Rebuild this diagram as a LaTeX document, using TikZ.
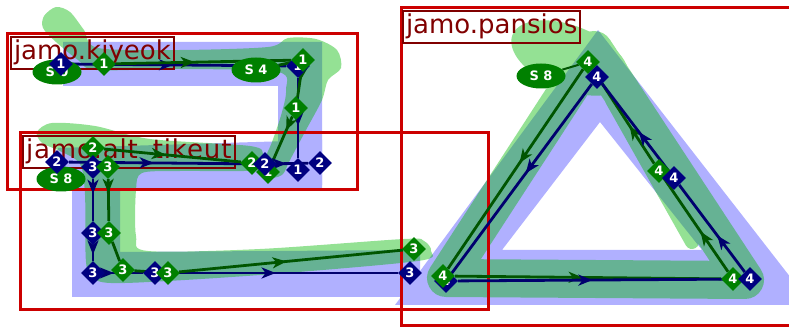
\documentclass[tikz,border=0pt]{standalone}
\usepackage{fontspec}
\setmainfont{DejaVu Sans}
\usetikzlibrary{shapes.geometric,decorations.markings,arrows.meta}

\definecolor{hlblue}{RGB}{176,176,255}
\definecolor{hlgreen}{RGB}{0,183,0}
\definecolor{framered}{RGB}{204,0,0}
\definecolor{labelred}{RGB}{128,0,0}
\definecolor{navyline}{RGB}{0,0,110}
\definecolor{greenline}{RGB}{0,85,0}
\definecolor{navystopc}{RGB}{0,0,128}
\definecolor{greenstopc}{RGB}{0,128,0}

\pgfdeclarelayer{hl}
\pgfdeclarelayer{frames}
\pgfdeclarelayer{routes}
\pgfsetlayers{hl,frames,routes,main}

\tikzset{
  navystop/.style={diamond, fill=navystopc, text=white, minimum size=24pt, inner sep=0pt,
    font=\bfseries\fontsize{13}{13}\selectfont},
  greenstop/.style={navystop, fill=greenstopc},
  stopname/.style={ellipse, fill=greenstopc, text=white, minimum width=49pt, minimum height=25pt,
    inner sep=0pt, font=\bfseries\fontsize{13}{13}\selectfont},
  framebox/.style={draw=framered, line width=3pt},
  framelabel/.style={draw=labelred, line width=2pt, text=labelred, anchor=north west,
    inner xsep=3pt, inner ysep=3pt, text height=20pt, text depth=6pt,
    font=\fontsize{26}{30}\selectfont},
  navylink/.style={draw=navyline, line width=2.8pt},
  greenlink/.style={draw=greenline, line width=2.8pt},
  navyrun/.style={navylink, postaction=decorate,
    decoration={markings, mark=at position #1 with {\arrow{Stealth[length=14pt,width=11pt,inset=4pt]}}}},
  navyrun/.default=0.5,
  greenrun/.style={greenlink, postaction=decorate,
    decoration={markings, mark=at position #1 with {\arrow{Stealth[length=14pt,width=11pt,inset=4pt]}}}},
  greenrun/.default=0.5,
}

\begin{document}
\begin{tikzpicture}[x=1pt, y=-1pt]
  \useasboundingbox (0,0) rectangle (789,328);

  % stop names
  \node[stopname] (szero) at (57,72) {S 0};
  \node[stopname] (sfour) at (256,70) {S 4};
  \node[stopname] (seight) at (61,179) {S 8};
  \node[stopname] (seightb) at (541,76) {S 8};

  % jamo.kiyeok stops
  \node[navystop] (nA1) at (61,64) {1};
  \node[greenstop] (gA1) at (104,64) {1};
  \node[navystop] (nA2) at (298,66) {1};
  \node[greenstop] (gA2) at (303,60) {1};
  \node[greenstop] (gA3) at (296,108) {1};
  \node[navystop] (nA3) at (298,170) {1};
  \node[navystop] (nA4) at (320,163) {2};

  % jamo.alt_tikeut stops
  \node[navystop] (nB1) at (57,162) {2};
  \node[greenstop] (gB1) at (93,148) {2};
  \node[navystop] (nB2) at (93,167) {3};
  \node[greenstop] (gB2) at (108,167) {3};
  \node[navystop] (nB4) at (93,233) {3};
  \node[greenstop] (gB5) at (109,233) {3};
  \node[navystop] (nB5) at (93,273) {3};
  \node[greenstop] (gB6) at (123,270) {3};
  \node[navystop] (nB6) at (155,273) {3};
  \node[greenstop] (gB7) at (168,273) {3};
  \node[navystop] (nB7) at (410,273) {3};
  \node[greenstop] (gB8) at (414,249) {3};
  \node[greenstop] (gB4) at (268,172) {1};
  \node[greenstop] (gB3) at (252,163) {2};
  \node[navystop] (nB3) at (265,164) {2};

  % jamo.pansios stops
  \node[navystop] (nC2) at (446,281) {4};
  \node[greenstop] (gC2) at (443,276) {4};
  \node[greenstop] (gC1) at (588,62) {4};
  \node[navystop] (nC1) at (597,77) {4};
  \node[greenstop] (gC3) at (733,279) {4};
  \node[navystop] (nC3) at (750,279) {4};
  \node[greenstop] (gC4) at (659,171) {4};
  \node[navystop] (nC4) at (674,178) {4};

  % highlights
  \begin{pgfonlayer}{hl}
    \fill[hlblue] (63,42) -- (322,42) -- (322,185) -- (278,185) -- (278,86) -- (63,86) -- cycle;
    \fill[hlblue] (58,148) -- (322,140) -- (322,188) -- (120,188) -- (120,252) -- (420,250)
      -- (420,297) -- (72,297) -- (72,190) -- (58,190) -- cycle;
    \fill[hlblue, even odd rule] (598,30) -- (395,305) -- (812,305) -- cycle
      (600,122) -- (502,250) -- (702,250) -- cycle;
    \begin{scope}[transparency group, opacity=0.42]
      \fill[hlgreen] plot[smooth cycle] coordinates {(44,16) (56,7) (70,12) (84,30) (98,48)
        (180,50) (268,47) (288,38) (316,39) (337,50) (341,68) (328,80) (322,100) (306,130)
        (290,160) (282,175) (266,178) (262,166) (272,142) (282,112) (286,90) (278,72)
        (180,69) (96,70) (78,60) (56,42) (43,28)};
      \fill[hlgreen] plot[smooth cycle] coordinates {(37,132) (52,123) (95,126) (150,139)
        (250,146) (263,155) (258,170) (180,171) (142,173) (136,190) (136,236) (148,251)
        (260,249) (404,239) (424,241) (431,251) (418,261) (260,275) (125,283) (94,279)
        (86,262) (85,195) (80,164) (60,151) (42,143)};
      \draw[hlgreen, line width=38pt, line join=round] (594,50) -- (446,278) -- (745,280) -- cycle;
      \draw[hlgreen, line width=14pt, line cap=round] (612,100) -- (692,242);
      \fill[hlgreen, rotate around={-22:(570,58)}] (570,58) ellipse (62 and 32);
    \end{scope}
  \end{pgfonlayer}

  % frames
  \begin{pgfonlayer}{frames}
    \draw[framebox] (7,34) rectangle (357,190);
    \draw[framebox] (20,133) rectangle (488,310);
    \draw[framebox] (401,8) rectangle (800,325);
    \node[framelabel] (kiyeok) at (10,36) {jamo.kiyeok};
    \node[framelabel] (tikeut) at (22,135) {\addfontfeature{LetterSpace=3.5}jamo.alt\_tikeut};
    \node[framelabel] (pansios) at (402,10) {jamo.pansios};
  \end{pgfonlayer}

  % routes
  \begin{pgfonlayer}{routes}
    \draw[navyrun=0.47] (nA1) -- (nA2);
    \draw[navyrun=0.6] (nA2) -- (nA3);
    \draw[greenrun=0.45] (gA1) -- (gA2);
    \draw[greenrun=0.4] (gA2) -- (gA3);
    \draw[greenrun=0.3] (gA3) -- (gB4);
    \draw[greenlink] (sfour) -- (gA2);

    \draw[navyrun=0.46] (nB1) -- (nB3);
    \draw[navyrun=0.3] (nB3) -- (nA4);
    \draw[greenrun=0.45] (gB1) -- (gB3);
    \draw[navyrun=0.35] (nB2) -- (nB4);
    \draw[greenrun=0.33] (gB2) -- (gB5);
    \draw[navyrun=0.6] (nB4) -- (nB5);
    \draw[greenlink] (gB5) -- (gB6);
    \draw[navyrun=0.23] (nB5) -- (nB6);
    \draw[greenlink] (gB6) -- (gB7);
    \draw[navyrun=0.47] (nB6) -- (nB7);
    \draw[greenrun=0.48] (gB7) -- (gB8);

    \draw[greenrun=0.47] (gC1) -- (gC2);
    \draw[navyrun=0.47] (nC1) -- (nC2);
    \draw[greenrun=0.48] (gC2) -- (gC3);
    \draw[navyrun=0.48] (nC2) -- (nC3);
    \draw[greenrun=0.43] (gC3) -- (gC4);
    \draw[navyrun=0.42] (nC3) -- (nC4);
    \draw[greenrun=0.4] (gC4) -- (gC1);
    \draw[navyrun=0.45] (nC4) -- (nC1);
    \draw[greenlink, line width=2pt] (seightb) -- (gC1);
  \end{pgfonlayer}
\end{tikzpicture}
\end{document}
